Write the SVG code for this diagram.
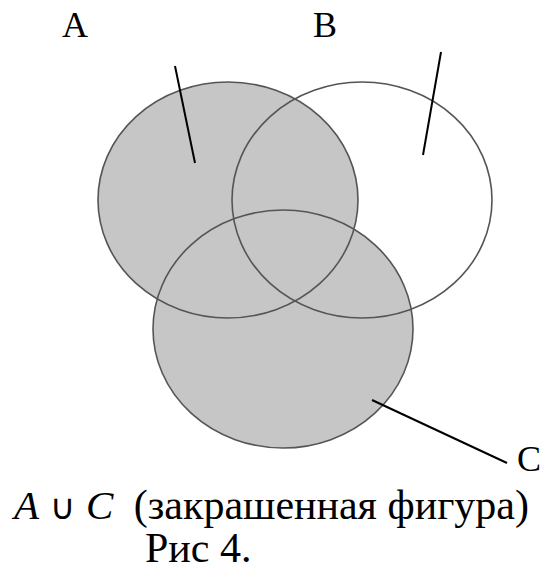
<svg xmlns="http://www.w3.org/2000/svg" width="548" height="570" viewBox="0 0 548 570">
<style>
.fill{fill:#c6c6c6;stroke:none}
.edge{fill:none;stroke:#555;stroke-width:1.6}
.ptr{stroke:#000;stroke-width:2;fill:none}
.lbl{font-family:"Liberation Serif","DejaVu Serif",serif;font-size:36px;fill:#000}
.cap{font-family:"Liberation Serif","DejaVu Serif",serif;font-size:42px;fill:#000}
.math{font-family:"Liberation Serif","DejaVu Serif",serif;font-style:italic;font-size:41px;fill:#000}
.op{font-family:"DejaVu Sans",sans-serif;font-size:35px;fill:#000}
</style>
<rect width="548" height="570" fill="#fff"/>
<g id="fills">
<ellipse class="fill" cx="228" cy="200" rx="130" ry="118"/>
<ellipse class="fill" cx="283" cy="329" rx="130" ry="119"/>
</g>
<g id="A"><ellipse class="edge" cx="228" cy="200" rx="130" ry="118"/><text class="lbl" x="62" y="37">A</text></g>
<g id="B"><ellipse class="edge" cx="362" cy="200" rx="130" ry="118"/><text class="lbl" x="313" y="37">B</text></g>
<g id="C"><ellipse class="edge" cx="283" cy="329" rx="130" ry="119"/><text class="lbl" x="517" y="471">C</text></g>
<g id="connectors">
<line class="ptr" x1="175" y1="66" x2="195" y2="163"/>
<line class="ptr" x1="441" y1="52" x2="423" y2="155"/>
<line class="ptr" x1="372" y1="400" x2="507" y2="463"/>
</g>
<g id="caption">
<text class="math" x="14" y="519">A</text>
<text class="op" x="50" y="519">∪</text>
<text class="math" x="86" y="519">C</text>
<text class="cap" x="529" y="519" text-anchor="end">(закрашенная фигура)</text>
<text class="cap" x="145" y="562">Рис 4.</text>
</g>
</svg>
